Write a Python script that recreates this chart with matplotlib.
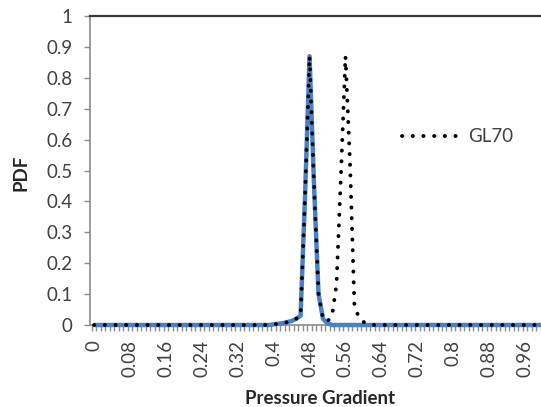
import numpy as np
import matplotlib
matplotlib.use("Agg")
import matplotlib.pyplot as plt
from matplotlib.ticker import FixedLocator

plt.rcParams['font.family'] = ['Lato', 'DejaVu Sans']

# categories: pressure gradient 0.00 .. 1.00 step 0.01
categories = [round(i * 0.01, 2) for i in range(101)]

# blue solid series
blue_values = [0]*40 + [0.002, 0.004, 0.006, 0.009, 0.013, 0.02, 0.03, 0.42, 0.87, 0.45,
                        0.10, 0.02, 0.005] + [0]*48

# GL70 dotted series
gl70_values = [0]*40 + [0.002, 0.004, 0.006, 0.009, 0.013, 0.02, 0.03, 0.42, 0.87, 0.45,
                        0.10, 0.02, 0.012, 0.03, 0.13, 0.49, 0.87, 0.53, 0.06, 0.025,
                        0.01, 0.004] + [0]*39

xtick_labels = ["0", "0.08", "0.16", "0.24", "0.32", "0.4", "0.48", "0.56",
                "0.64", "0.72", "0.8", "0.88", "0.96"]
ytick_labels = ["0", "0.1", "0.2", "0.3", "0.4", "0.5", "0.6", "0.7", "0.8", "0.9", "1"]

W, H = 541, 407
fig = plt.figure(figsize=(W/100, H/100), dpi=100)
left_px, top_px, bottom_px = 90, 16, 325
ax = fig.add_axes([left_px/W, 1 - bottom_px/H, 1 - left_px/W, (bottom_px - top_px)/H])

x = np.array(categories)
ax.plot(x, blue_values, color='#4a80c8', lw=3.2, solid_joinstyle='round',
        solid_capstyle='butt', zorder=3, clip_on=False)
ax.plot(x, gl70_values, color='black', lw=2.8, linestyle=(0, (0.05, 2.7)),
        dash_capstyle='round', zorder=4, label='GL70', clip_on=False)

ax.set_xlim(-0.009, 0.9955)
ax.set_ylim(0, 1)

gray = '#8c8c8c'
txt = '#404040'
ax.spines['right'].set_visible(False)
ax.spines['left'].set_color(gray)
ax.spines['bottom'].set_color(gray)
ax.spines['left'].set_linewidth(1.2)
ax.spines['bottom'].set_linewidth(1.2)
ax.spines['top'].set_color('#3a3a3a')
ax.spines['top'].set_linewidth(1.6)

# x ticks: labels every 8 categories, tick marks between categories
xt = [float(l) for l in xtick_labels]
ax.set_xticks(xt)
ax.set_xticklabels(xtick_labels, rotation=90, va='top', ha='center')
ax.tick_params(axis='x', which='major', length=0, pad=11, labelsize=13.5, labelcolor=txt)
minor_pos = [c - 0.005 for c in categories]
ax.xaxis.set_minor_locator(FixedLocator(minor_pos))
ax.tick_params(axis='x', which='minor', length=4.5, width=1, color=gray, direction='out')

ax.set_yticks([float(l) for l in ytick_labels])
ax.set_yticklabels(ytick_labels)
ax.tick_params(axis='y', which='major', length=4.5, width=1, color=gray, pad=8,
               labelsize=13.5, labelcolor=txt)

ax.set_xlabel("Pressure Gradient", fontsize=13.5, fontweight='bold', color='#262626')
ax.xaxis.set_label_coords((320/W - left_px/W) / (1 - left_px/W),
                          ((1 - 398/H) - (1 - bottom_px/H)) / ((bottom_px - top_px)/H))
ax.xaxis.label.set_va('center')
ax.set_ylabel("PDF", fontsize=13.5, fontweight='bold', color='#262626')
ax.yaxis.set_label_coords((21.5/W - left_px/W) / (1 - left_px/W),
                          ((1 - 173/H) - (1 - bottom_px/H)) / ((bottom_px - top_px)/H))
ax.yaxis.label.set_va('center')

leg = ax.legend(loc='center left', bbox_to_anchor=(402/W, 1 - 137/H),
                bbox_transform=fig.transFigure, frameon=False, fontsize=13.5,
                handlelength=3.0, handletextpad=0.55, borderpad=0, borderaxespad=0)
for t in leg.get_texts():
    t.set_color(txt)

fig.savefig("out.png", dpi=100)
